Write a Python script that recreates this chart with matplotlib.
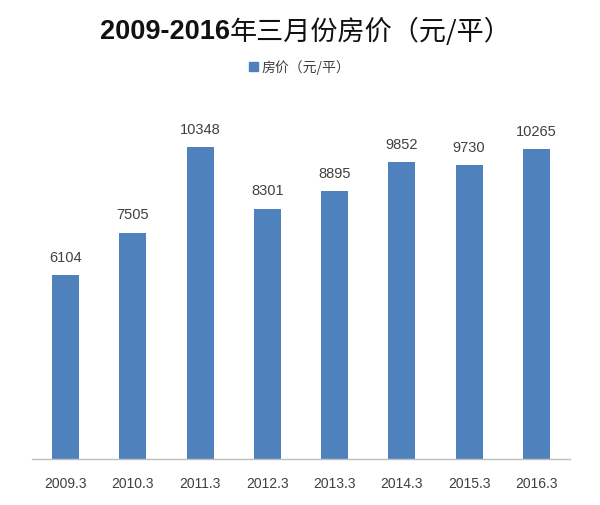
import matplotlib
matplotlib.use("Agg")
import matplotlib.pyplot as plt
from matplotlib.patches import Patch

categories = ["2009.3", "2010.3", "2011.3", "2012.3", "2013.3", "2014.3", "2015.3", "2016.3"]
values = [6104, 7505, 10348, 8301, 8895, 9852, 9730, 10265]
series_name = "房价（元/平）"
title_num = "2009-2016"
title_cjk = "年三月份房价（元/平）"

plt.rcParams['font.family'] = ['Noto Sans CJK SC', 'DejaVu Sans']
bar_color = "#4F81BD"
text_color = "#404040"

fig = plt.figure(figsize=(6.0, 5.06), dpi=100)
ax = fig.add_axes([32/600, 46/506, 538/600, 362/506])
x = list(range(len(categories)))
bars = ax.bar(x, values, width=0.4, color=bar_color)
ax.set_xlim(-0.5, len(categories) - 0.5)
ax.set_ylim(0, 12000)
ax.set_yticks([])
for s in ["top", "right", "left"]:
    ax.spines[s].set_visible(False)
ax.spines["bottom"].set_color("#BFBFBF")
ax.spines["bottom"].set_linewidth(1.0)
ax.set_xticks(x)
ax.set_xticklabels(categories, fontsize=10, color=text_color, family=['Liberation Sans', 'DejaVu Sans'])
ax.tick_params(axis='x', length=0, pad=12)
for xi, v in zip(x, values):
    ax.annotate(str(v), (xi, v), xytext=(0, 8), textcoords="offset points",
                ha="center", va="bottom", fontsize=10.5, color=text_color,
                family=['Liberation Sans', 'DejaVu Sans'])

# Title: bold digits + regular CJK part
t1 = fig.text(100/600, 1 - 32/506, title_num, fontsize=19.5, fontweight="bold",
              ha="left", va="center", color="#111111", family=['Liberation Sans', 'DejaVu Sans'])
fig.canvas.draw()
r = fig.canvas.get_renderer()
bb = t1.get_window_extent(r)
fig.text(bb.x1 / fig.bbox.width, 1 - 32/506, title_cjk, fontsize=19.5, ha="left", va="center",
         color="#111111", family=['Noto Sans CJK SC', 'DejaVu Sans'])

leg = fig.legend(handles=[Patch(color=bar_color, label=series_name)], loc="center",
                 bbox_to_anchor=(0.5, 1 - 68/506), frameon=False, fontsize=10,
                 handlelength=0.6, handleheight=0.6, handletextpad=0.3,
                 labelcolor=text_color)

fig.savefig("out.png", dpi=100, facecolor="white")
